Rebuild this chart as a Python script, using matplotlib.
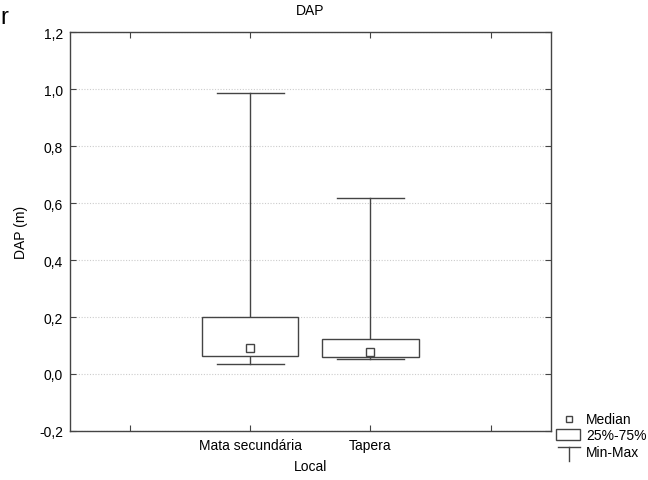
import matplotlib
matplotlib.use("Agg")
import matplotlib.pyplot as plt
from matplotlib.patches import Rectangle
from matplotlib.lines import Line2D

plt.rcParams['font.family'] = ['Liberation Sans', 'DejaVu Sans']

categories = ["Mata secundária", "Tapera"]
positions = [1, 2]
mins = [0.036, 0.053]
q1s = [0.064, 0.060]
medians = [0.092, 0.077]
q3s = [0.200, 0.123]
maxs = [0.985, 0.618]
yticks = [-0.2, 0.0, 0.2, 0.4, 0.6, 0.8, 1.0, 1.2]
ytick_labels = ["-0,2", "0,0", "0,2", "0,4", "0,6", "0,8", "1,0", "1,2"]

fig = plt.figure(figsize=(6.48, 4.81), dpi=100)
ax = fig.add_axes([0.108, 0.102, 0.742, 0.829])

lc = "#444444"
box_w = 0.8
cap_w = 0.56
for p, mn, a, md, b, mx in zip(positions, mins, q1s, medians, q3s, maxs):
    ax.add_patch(Rectangle((p - box_w / 2, a), box_w, b - a, facecolor="white",
                           edgecolor=lc, linewidth=1.0, zorder=3))
    ax.plot([p, p], [b, mx], color=lc, lw=1.0, zorder=2)
    ax.plot([p, p], [mn, a], color=lc, lw=1.0, zorder=2)
    ax.plot([p - cap_w / 2, p + cap_w / 2], [mx, mx], color=lc, lw=1.0, zorder=2)
    ax.plot([p - cap_w / 2, p + cap_w / 2], [mn, mn], color=lc, lw=1.0, zorder=2)
    ax.plot([p], [md], marker="s", markersize=6, markerfacecolor="white",
            markeredgecolor=lc, markeredgewidth=1.0, zorder=4)

ax.set_xlim(-0.5, 3.5)
ax.set_ylim(-0.2, 1.2)
ax.set_xticks([0, 1, 2, 3])
ax.set_xticklabels(["", categories[0], categories[1], ""])
ax.set_yticks(yticks)
ax.set_yticklabels(ytick_labels)
ax.tick_params(axis="both", direction="in", length=4, color=lc, labelsize=10,
               top=True, right=True, pad=5)
ax.yaxis.grid(True, linestyle=(0, (1, 1.5)), color="#cccccc", linewidth=0.8)
ax.set_axisbelow(True)
for s in ax.spines.values():
    s.set_color(lc)
    s.set_linewidth(1.0)

ax.set_xlabel("Local", fontsize=10, labelpad=5)
ax.set_ylabel("DAP (m)", fontsize=10, labelpad=8)
ax.set_title("DAP", fontsize=10, pad=13)

fig.text(0.0, 0.985, "r", fontsize=17, ha="left", va="top")

# Legend (outside, lower right)
tr = fig.transFigure
W, H = 648.0, 481.0
def fx(x):
    return x / W
def fy(y):
    return 1 - y / H
fig.add_artist(Line2D([fx(569)], [fy(420)], marker="s", markersize=5,
                      markerfacecolor="white", markeredgecolor=lc,
                      markeredgewidth=1.0, transform=tr))
fig.add_artist(Rectangle((fx(556), fy(441)), fx(580) - fx(556), fy(430) - fy(441),
                         facecolor="white", edgecolor=lc, linewidth=1.0, transform=tr))
fig.add_artist(Line2D([fx(558), fx(580)], [fy(448), fy(448)], color=lc, lw=1.0, transform=tr))
fig.add_artist(Line2D([fx(569), fx(569)], [fy(448), fy(462)], color=lc, lw=1.0, transform=tr))
fig.text(fx(586), fy(420), "Median", fontsize=10, va="center", ha="left")
fig.text(fx(586), fy(436), "25%-75%", fontsize=10, va="center", ha="left")
fig.text(fx(586), fy(453), "Min-Max", fontsize=10, va="center", ha="left")

fig.savefig("out.png", dpi=100)
